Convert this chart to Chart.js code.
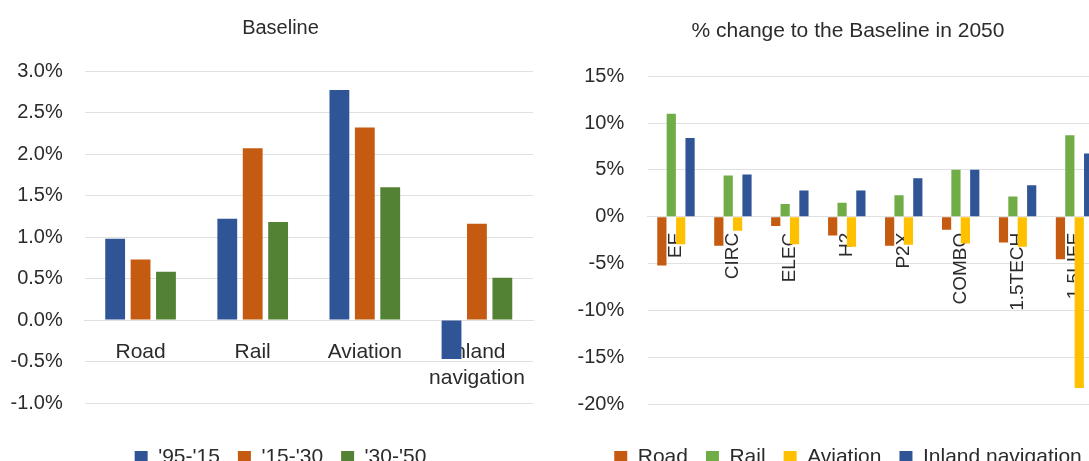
<!DOCTYPE html>
<html>
<head>
<meta charset="utf-8">
<script src="https://cdn.jsdelivr.net/npm/chart.js@4.4.1/dist/chart.umd.min.js"></script>
<style>
  html, body { margin: 0; padding: 0; background: #fff; overflow: hidden; width: 1089px; height: 461px; }
  #baseline { position: absolute; left: 0; top: 0; }
  #change { position: absolute; left: 560px; top: 0; }
</style>
</head>
<body>
<canvas id="baseline" width="556" height="478"></canvas>
<canvas id="change" width="563" height="478"></canvas>
<script>
// left chart: annual growth by mode, baseline
const modes = ['Road', 'Rail', 'Aviation', ['Inland', 'navigation']];
const periods = ["'95-'15", "'15-'30", "'30-'50"];
const growth9515 = [0.98, 1.22, 2.77, -0.47];
const growth1530 = [0.73, 2.07, 2.32, 1.16];
const growth3050 = [0.58, 1.18, 1.60, 0.51];
const baseTicks = { min: -1, max: 3, step: 0.5 };

// right chart: % change to the baseline in 2050 per scenario
const scenarios = ['EE', 'CIRC', 'ELEC', 'H2', 'P2X', 'COMBO', '1.5TECH', '1.5LIFE'];
const modeNames = ['Road', 'Rail', 'Aviation', 'Inland navigation'];
const roadChange = [-5.2, -3.1, -1.0, -2.0, -3.1, -1.4, -2.75, -4.55];
const railChange = [11.0, 4.4, 1.35, 1.5, 2.3, 5.0, 2.15, 8.7];
const aviationChange = [-2.95, -1.5, -2.95, -3.2, -3.0, -2.85, -3.2, -18.3];
const inlandChange = [8.4, 4.5, 2.8, 2.8, 4.1, 5.0, 3.35, 6.75];
const changeTicks = { min: -20, max: 15, step: 5 };

const BLUE = '#2F5597', ORANGE = '#C55A11', GREEN_DARK = '#548235', GREEN = '#70AD47', YELLOW = '#FFC000';
const GRID = '#e0e0e0', TEXT = '#2b2b2b';

Chart.defaults.font.family = "'Liberation Sans', Arial, sans-serif";
Chart.defaults.color = TEXT;
Chart.defaults.animation = false;

// labels are drawn "mirrored" with a negative padding so they sit left of a narrow axis box
// without being clipped; the box width keeps the legend and title centred like the original
function yAxis(t, fmt, width, widest) {
    return {
        min: t.min, max: t.max,
        ticks: { stepSize: t.step, mirror: true, crossAlign: 'far', padding: -22 - widest, font: { size: 20 }, callback: fmt },
        grid: { color: GRID, drawTicks: false },
        border: { display: false },
        afterFit: s => { s.width = width; }
    };
}

// empty axis under the plot, only to keep room above the legend
function spacerAxis(h) {
    return {
        type: 'category',
        position: 'bottom',
        grid: { display: false, drawTicks: false },
        border: { display: false },
        ticks: { display: false },
        afterFit: s => { s.height = h; }
    };
}

function legendOpts() {
    return {
        position: 'bottom',
        labels: { boxWidth: 13, boxHeight: 13, padding: 18, font: { size: 21 } }
    };
}

new Chart(document.getElementById('baseline'), {
    type: 'bar',
    data: {
        labels: modes,
        datasets: [
            { label: periods[0], data: growth9515, backgroundColor: BLUE },
            { label: periods[1], data: growth1530, backgroundColor: ORANGE },
            { label: periods[2], data: growth3050, backgroundColor: GREEN_DARK }
        ]
    },
    options: {
        responsive: false,
        devicePixelRatio: 1,
        layout: { padding: { left: 28, right: 23, top: 6, bottom: 0 } },
        datasets: { bar: { barPercentage: 0.78, categoryPercentage: 0.68 } },
        plugins: {
            title: { display: true, text: 'Baseline', font: { size: 20, weight: 'normal' }, color: TEXT, padding: { top: 10, bottom: 31 } },
            legend: legendOpts(),
            tooltip: { enabled: false }
        },
        scales: {
            x: {
                position: { y: 0 },
                z: 1,
                grid: { display: false, drawTicks: false },
                border: { color: GRID },
                ticks: { font: { size: 21 }, padding: 20, maxRotation: 0, autoSkip: false }
            },
            xb: spacerAxis(26),
            y: yAxis(baseTicks, v => v.toFixed(1) + '%', 56.5, 52)
        }
    }
});

new Chart(document.getElementById('change'), {
    type: 'bar',
    data: {
        labels: scenarios,
        datasets: [
            { label: modeNames[0], data: roadChange, backgroundColor: ORANGE },
            { label: modeNames[1], data: railChange, backgroundColor: GREEN },
            { label: modeNames[2], data: aviationChange, backgroundColor: YELLOW },
            { label: modeNames[3], data: inlandChange, backgroundColor: BLUE }
        ]
    },
    options: {
        responsive: false,
        devicePixelRatio: 1,
        layout: { padding: { left: 33, right: 20, top: 6, bottom: 0 } },
        datasets: { bar: { barPercentage: 0.98, categoryPercentage: 0.66 } },
        plugins: {
            title: { display: true, text: '% change to the Baseline in 2050', font: { size: 21, weight: 'normal' }, color: TEXT, padding: { top: 13, bottom: 32 } },
            legend: legendOpts(),
            tooltip: { enabled: false }
        },
        scales: {
            x: {
                position: { y: 0 },
                z: 1,
                grid: { display: false, drawTicks: false },
                border: { color: GRID },
                ticks: { font: { size: 19 }, padding: 16, minRotation: 90, maxRotation: 90, autoSkip: false }
            },
            xb: spacerAxis(25),
            y: yAxis(changeTicks, v => v + '%', 54.5, 48)
        }
    }
});
</script>
</body>
</html>
